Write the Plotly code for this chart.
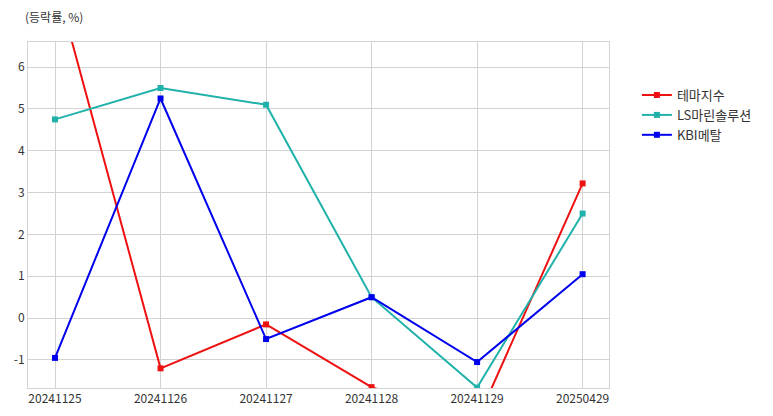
import plotly.graph_objects as go

dates = ["20241125", "20241126", "20241127", "20241128", "20241129", "20250429"]
theme_index = [8.1, -1.2, -0.15, -1.65, -2.45, 3.22]
ls_marine = [4.75, 5.5, 5.1, 0.5, -1.66, 2.5]
kbi_metal = [-0.95, 5.25, -0.5, 0.5, -1.05, 1.05]
y_ticks = [-1, 0, 1, 2, 3, 4, 5, 6]

series = [
    ("테마지수", theme_index, "#ee1111"),
    ("LS마린솔루션", ls_marine, "#20b2aa"),
    ("KBI메탈", kbi_metal, "#0000ee"),
]

fig = go.Figure()
for name, vals, color in series:
    fig.add_trace(go.Scatter(
        x=dates, y=vals, name=name, mode="lines+markers",
        line=dict(color=color, width=2),
        marker=dict(symbol="square", size=6, color=color),
    ))

fig.update_layout(
    width=757, height=400,
    margin=dict(l=20, r=156, t=34, b=20, autoexpand=False),
    paper_bgcolor="white", plot_bgcolor="white",
    font=dict(family="Noto Sans CJK KR", size=12, color="#333333"),
    showlegend=True,
    legend=dict(x=1.048, y=0.89, xanchor="left", yanchor="top",
                font=dict(size=13, color="#333333"), tracegroupgap=0,
                bgcolor="rgba(0,0,0,0)"),
)
fig.add_annotation(text="(등락률, %)", xref="paper", yref="paper",
                   x=-0.008, y=1.074, xanchor="left", yanchor="middle",
                   showarrow=False, font=dict(size=12, color="#333333"))

fig.update_xaxes(type="category", range=[-0.256, 5.25], showgrid=True, automargin=False,
                 gridcolor="#d3d3d3", gridwidth=1, showline=True, linecolor="#d3d3d3",
                 mirror=True, ticks="", tickfont=dict(size=12, color="#333333"))
fig.update_yaxes(range=[-1.67, 6.6], tickvals=y_ticks, ticktext=[str(v) for v in y_ticks],
                 showgrid=True, gridcolor="#d3d3d3", automargin=False,
                 gridwidth=1, showline=True, linecolor="#d3d3d3", mirror=True,
                 zeroline=False, ticks="", tickfont=dict(size=12, color="#333333"))

fig.write_html("out.html")
